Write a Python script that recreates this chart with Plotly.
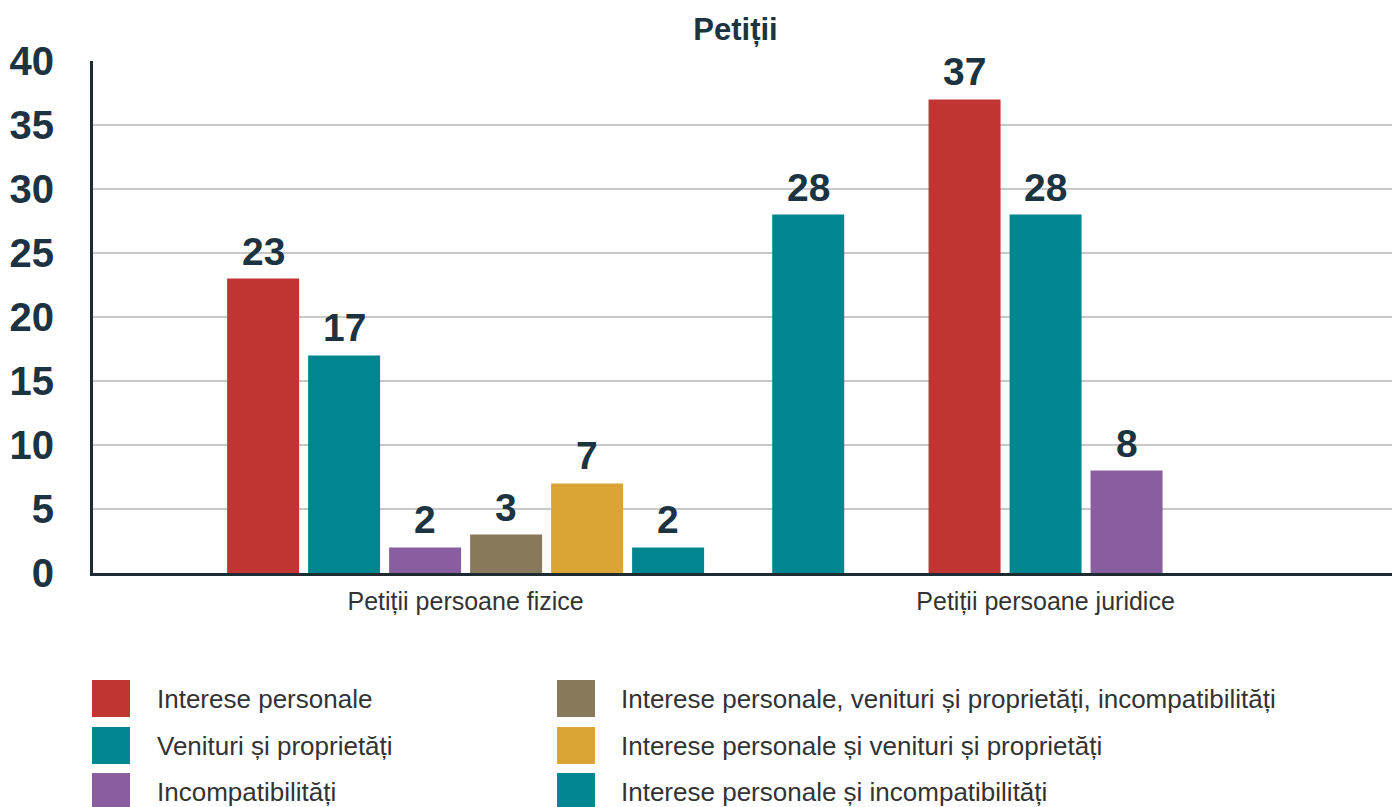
import plotly.graph_objects as go

# ---------------- data ----------------
categories = ["Petiții persoane fizice", "Petiții persoane juridice"]
series_names = [
    "Interese personale",
    "Venituri și proprietăți",
    "Incompatibilități",
    "Interese personale, venituri și proprietăți, incompatibilități",
    "Interese personale și venituri și proprietăți",
    "Interese personale și incompatibilități",
]
interese_personale = [23, 37]
venituri_proprietati = [17, 28]
incompatibilitati = [2, 8]
ip_vp_inc = [3, None]
ip_vp = [7, None]
ip_inc = [2, 28]
y_tick_values = [0, 5, 10, 15, 20, 25, 30, 35, 40]

series_values = [interese_personale, venituri_proprietati, incompatibilitati,
                 ip_vp_inc, ip_vp, ip_inc]

# ---------------- styling / layout ----------------
colors = ["#C03432", "#00868F", "#895EA0", "#89795B", "#DAA534", "#00868F"]
FONT = "Liberation Sans, Arial, sans-serif"
DARK = "#1c3341"

OFF = 8  # page body margin in the browser
W, H = 1400 - OFF, 807 - OFF
ML, MR, MT, MB = 93 - OFF, 0, 61 - OFF, 807 - 573
PW = W - ML - MR
PH = H - MT - MB
UNIT = 81.0  # pixels per slot
x_max = PW / UNIT

# position of each category centre (in slot units) and slot offsets of each series
category_center = [4.6, 11.76]
slot_offsets = [
    [-2.5, -1.5, -0.5, 0.5, 1.5, 2.5],
    [-1.0, 0.0, 1.0, None, None, -2.93],
]
bar_width = 72 / UNIT

fig = go.Figure()
annotations = []
for s, (name, vals) in enumerate(zip(series_names, series_values)):
    xs, ys = [], []
    for c, v in enumerate(vals):
        if v is None or slot_offsets[c][s] is None:
            continue
        xs.append(category_center[c] + slot_offsets[c][s])
        ys.append(v)
    fig.add_trace(go.Bar(x=xs, y=ys, name=name, width=bar_width,
                         marker=dict(color=colors[s], line=dict(width=0)),
                         showlegend=False))
    for x, y in zip(xs, ys):
        annotations.append(dict(x=x, y=y, xref="x", yref="y", text=str(y),
                                showarrow=False, yanchor="bottom", xanchor="center",
                                yshift=4,
                                font=dict(family=FONT, size=39, color=DARK, weight="bold")))

# ---------------- manual legend (page pixel positions) ----------------
def px_x(px):
    return (px - OFF - ML) / PW

def px_y(py):
    return (H - MB - (py - OFF)) / PH

legend_sq_x = [92, 557]
legend_txt_x = [155, 619]
legend_row_y = [698.5, 745.5, 791.5]
shapes = []
for i, name in enumerate(series_names):
    col, row = divmod(i, 3)
    cy = legend_row_y[row]
    shapes.append(dict(type="rect", xref="paper", yref="paper",
                       x0=px_x(legend_sq_x[col]), x1=px_x(legend_sq_x[col] + 38),
                       y0=px_y(cy + 18.5), y1=px_y(cy - 18.5),
                       fillcolor=colors[i], line=dict(width=0)))
    annotations.append(dict(x=px_x(legend_txt_x[col]), y=px_y(cy), xref="paper", yref="paper",
                            text=name, showarrow=False, xanchor="left", yanchor="middle",
                            font=dict(family=FONT, size=26, color="#333333")))

fig.update_layout(
    width=W, height=H,
    margin=dict(l=ML, r=MR, t=MT, b=MB),
    plot_bgcolor="white", paper_bgcolor="white",
    barmode="overlay",
    title=dict(text="Petiții", x=(735.5 - OFF) / W, y=1 - (29 - OFF) / H,
               xanchor="center", yanchor="middle",
               xref="container", yref="container",
               font=dict(family=FONT, size=31, color=DARK, weight="bold")),
    xaxis=dict(range=[0, x_max], tickvals=category_center, ticktext=categories,
               showgrid=False, zeroline=False, showline=True, linecolor="#1d2b33",
               linewidth=3, ticks="", ticklabelstandoff=4,
               tickfont=dict(family=FONT, size=25, color="#333333")),
    yaxis=dict(range=[0, 40], tickvals=y_tick_values, showgrid=True, gridcolor="#c8c8c8",
               gridwidth=2, zeroline=False, showline=True, linecolor="#1d2b33", linewidth=3,
               ticks="", ticklabelstandoff=28,
               tickfont=dict(family=FONT, size=40, color=DARK, weight="bold")),
    annotations=annotations,
    shapes=shapes,
)

fig.write_html("out.html")
